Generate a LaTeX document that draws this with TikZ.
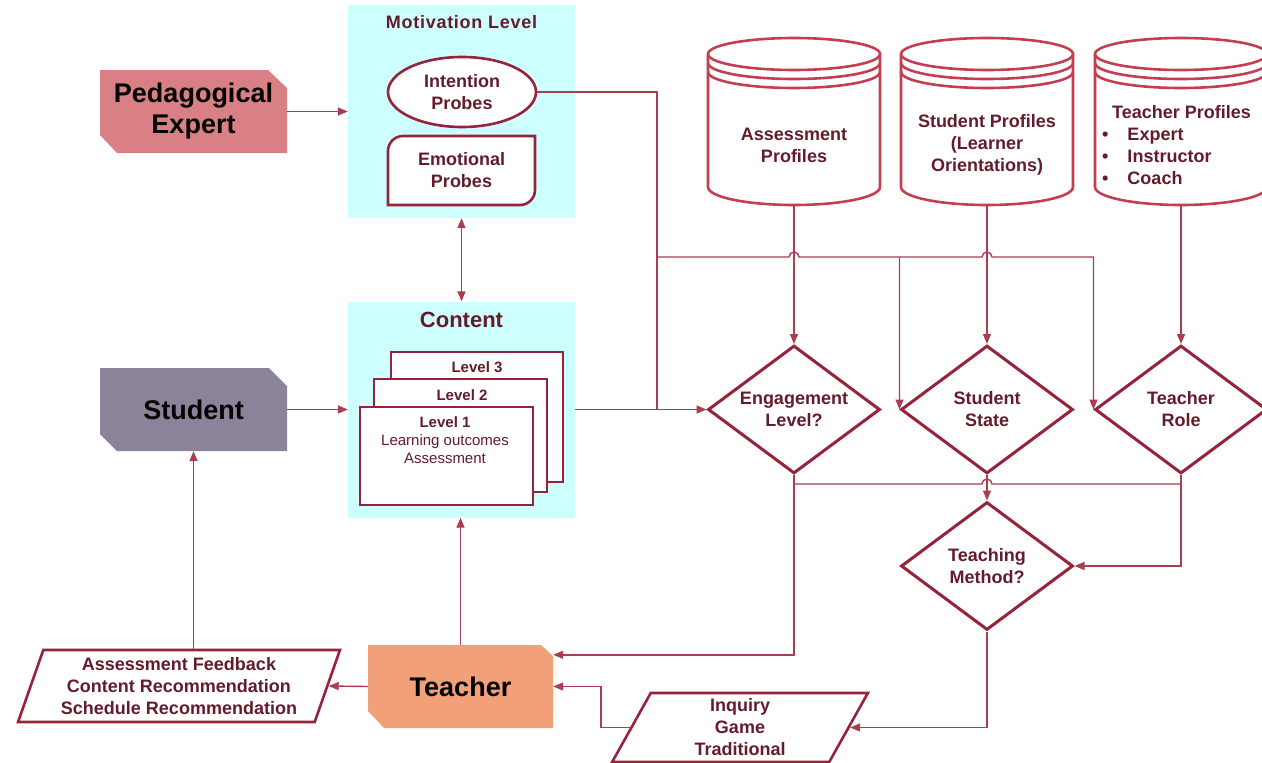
\documentclass[tikz,border=0pt]{standalone}
\usepackage{fontspec}
\setmainfont{Liberation Sans}
\usetikzlibrary{shapes.geometric,arrows.meta,calc}

\definecolor{maroon}{RGB}{150,35,58}
\definecolor{drumred}{RGB}{196,62,82}
\definecolor{linkred}{RGB}{168,62,80}
\definecolor{labelred}{RGB}{100,28,42}
\definecolor{panelcyan}{RGB}{206,255,255}
\definecolor{pedpink}{RGB}{216,128,131}
\definecolor{studgrey}{RGB}{140,131,154}
\definecolor{teachorange}{RGB}{241,160,121}

% database drum: name, centre x
\newcommand{\profdrum}[2]{%
  \node[drumbox] (#1) at (#2,121.5) {};
  \draw[drumline] (#2-86,54) -- (#2-86,187) arc[start angle=180,end angle=0,x radius=86,y radius=18] -- (#2+86,54);
  \draw[drumline] (#2,54) ellipse [x radius=86,y radius=16];
  \draw[drumline] (#2-86,63) arc[start angle=180,end angle=0,x radius=86,y radius=16];
  \draw[drumline] (#2-86,72) arc[start angle=180,end angle=0,x radius=86,y radius=16];
}

\begin{document}
\begin{tikzpicture}[x=1pt,y=-1pt,
  link/.style={linkred, line width=1.4pt, -{Triangle[length=10pt,width=8pt]}},
  wire/.style={linkred, line width=1.4pt},
  actor/.style={minimum width=187pt, minimum height=83pt, inner sep=0pt, align=center, font=\bfseries\fontsize{27}{31}\selectfont},
  panel/.style={fill=panelcyan, minimum width=227pt, inner sep=0pt},
  panelhead/.style={text=labelred, inner sep=0pt, font=\bfseries\fontsize{#1}{#1}\selectfont},
  probeline/.style={draw=maroon, line width=2.6pt, fill=white},
  probetext/.style={text=labelred, align=center, inner sep=0pt, font=\bfseries\fontsize{18}{22}\selectfont},
  levelcard/.style={draw=maroon, line width=2.6pt, fill=white, inner sep=0pt},
  cardtext/.style={text=labelred, align=center, inner sep=0pt, font=\bfseries\fontsize{15}{18}\selectfont},
  decision/.style={diamond, draw=maroon, line width=3pt, fill=white, aspect=1.34, inner sep=1pt, minimum width=172pt, minimum height=128pt, text=labelred, align=center, font=\bfseries\fontsize{18}{22}\selectfont},
  drumbox/.style={minimum width=172pt, minimum height=167pt, inner sep=0pt},
  drumline/.style={draw=drumred, line width=2.6pt},
  drumtext/.style={text=labelred, align=center, inner sep=0pt, font=\bfseries\fontsize{18}{22}\selectfont},
  slanted/.style={trapezium, trapezium stretches=true, draw=maroon, line width=2.6pt, fill=white, text=labelred, align=center, inner sep=0pt, font=\bfseries\fontsize{18}{22}\selectfont}]
\useasboundingbox (0,0) rectangle (1262,763);

% panels
\node[panel, minimum height=213pt] (motiv) at (461.5,111.5) {};
\node[panel, minimum height=216pt] (content) at (461.5,409.5) {};
\node[panelhead=18] (motivhead) at (461.5,22) {\addfontfeature{LetterSpace=4}Motivation Level};
\node[panelhead=22] (contenthead) at (461.5,320) {Content};

\node[probeline, probetext, ellipse, minimum width=148pt, minimum height=70pt] (intent) at (462,92) {Intention\\Probes};
\draw[probeline] (535,136) -- (403,136) arc[start angle=270,end angle=180,radius=15] -- (388,205) -- (520,205) arc[start angle=90,end angle=0,radius=15] -- cycle;
\node[probetext] (emot) at (461.5,170.5) {Emotional\\Probes};

\node[levelcard, minimum width=172pt, minimum height=130pt] (lvlthree) at (477,417) {};
\node[levelcard, minimum width=173pt, minimum height=113pt] (lvltwo) at (460.5,435.5) {};
\node[levelcard, minimum width=173pt, minimum height=98pt] (lvlone) at (446.5,456) {};
\node[cardtext] (lvlthreetext) at (477,367) {Level 3};
\node[cardtext] (lvltwotext) at (462,395) {Level 2};
\node[cardtext] (lvlonetext) at (445,440) {Level 1\\{\mdseries Learning outcomes}\\{\mdseries Assessment}};

% actors
\fill[pedpink] (100,70) -- (268,70) -- (287,88) -- (287,153) -- (117,153) -- (100,135) -- cycle;
\node[actor] (ped) at (193.5,111.5) {Pedagogical\\Expert};
\fill[studgrey] (100,368) -- (269,368) -- (287,386) -- (287,451) -- (117,451) -- (100,434) -- cycle;
\node[actor] (student) at (193.5,409.5) {Student};
\fill[teachorange] (368,645) -- (541,645) -- (553,656) -- (553,728) -- (384,728) -- (368,711) -- cycle;
\node[actor, minimum width=185pt] (teacher) at (460.5,686.5) {Teacher};

% profiles
\profdrum{assess}{794}
\profdrum{sprof}{987}
\profdrum{tprof}{1181}
\node[drumtext] (assesstext) at (794,145) {Assessment\\Profiles};
\node[drumtext] (sproftext) at (987,145) {Student Profiles\\(Learner\\Orientations)};
\node[drumtext, align=left, anchor=west] (tproftext) at (1102,145) {\hspace*{10pt}Teacher Profiles\\\textbullet\hspace{19pt}Expert\\\textbullet\hspace{19pt}Instructor\\\textbullet\hspace{19pt}Coach};

% decisions
\node[decision] (engage) at (794,409.5) {Engagement\\Level?};
\node[decision] (sstate) at (987,409.5) {Student\\State};
\node[decision] (trole) at (1181,409.5) {Teacher\\Role};
\node[decision] (method) at (987,566) {Teaching\\Method?};

% outputs
\node[slanted, trapezium left angle=69, trapezium right angle=111, minimum width=322pt, minimum height=72pt] (feedback) at (179,686) {Assessment Feedback\\Content Recommendation\\Schedule Recommendation};
\node[slanted, trapezium left angle=71, trapezium right angle=109, minimum width=256pt, minimum height=69pt] (styles) at (740,727.5) {Inquiry\\Game\\Traditional};

% connectors
\coordinate (fork) at (657,257);
\coordinate (lowbar) at (794,484);
\draw[link] (ped.east) -- (motiv.west);
\draw[link] (student.east) -- (content.west);
\draw[link, {Triangle[length=10pt,width=8pt]}-{Triangle[length=10pt,width=8pt]}] (motiv.south) -- (content.north);
\draw[link] (teacher.north) -- (teacher.north |- content.south);
\draw[link] (feedback.north -| student.south) -- (student.south);
\draw[link] (teacher.west) -- (feedback.east);
\draw[wire] (intent.east) -| (fork) -- (fork |- content.east);
\draw[link] (content.east) -- (engage.west);
\draw[link] (fork) -- ($(fork -| engage.north)+(-5,0)$) arc[start angle=180,end angle=360,radius=5] -- (fork -| sstate.west) -- (sstate.west);
\draw[link] (fork -| sstate.west) -- ($(fork -| sstate.north)+(-5,0)$) arc[start angle=180,end angle=360,radius=5] -- (fork -| trole.west) -- (trole.west);
\draw[link] (assess.south) -- (engage.north);
\draw[link] (sprof.south) -- (sstate.north);
\draw[link] (tprof.south) -- (trole.north);
\draw[link] (engage.south) |- ($(teacher.north east)+(0,10)$);
\draw[wire] (lowbar) -- ($(lowbar -| sstate.south)+(-5,0)$) arc[start angle=180,end angle=360,radius=5] -- (lowbar -| trole.south);
\draw[link] (trole.south) |- (method.east);
\draw[link] (sstate.south) -- (method.north);
\draw[link] (method.south) |- (styles.east);
\draw[link] (styles.west) -- ++(-29,0) |- (teacher.east);
\end{tikzpicture}
\end{document}
